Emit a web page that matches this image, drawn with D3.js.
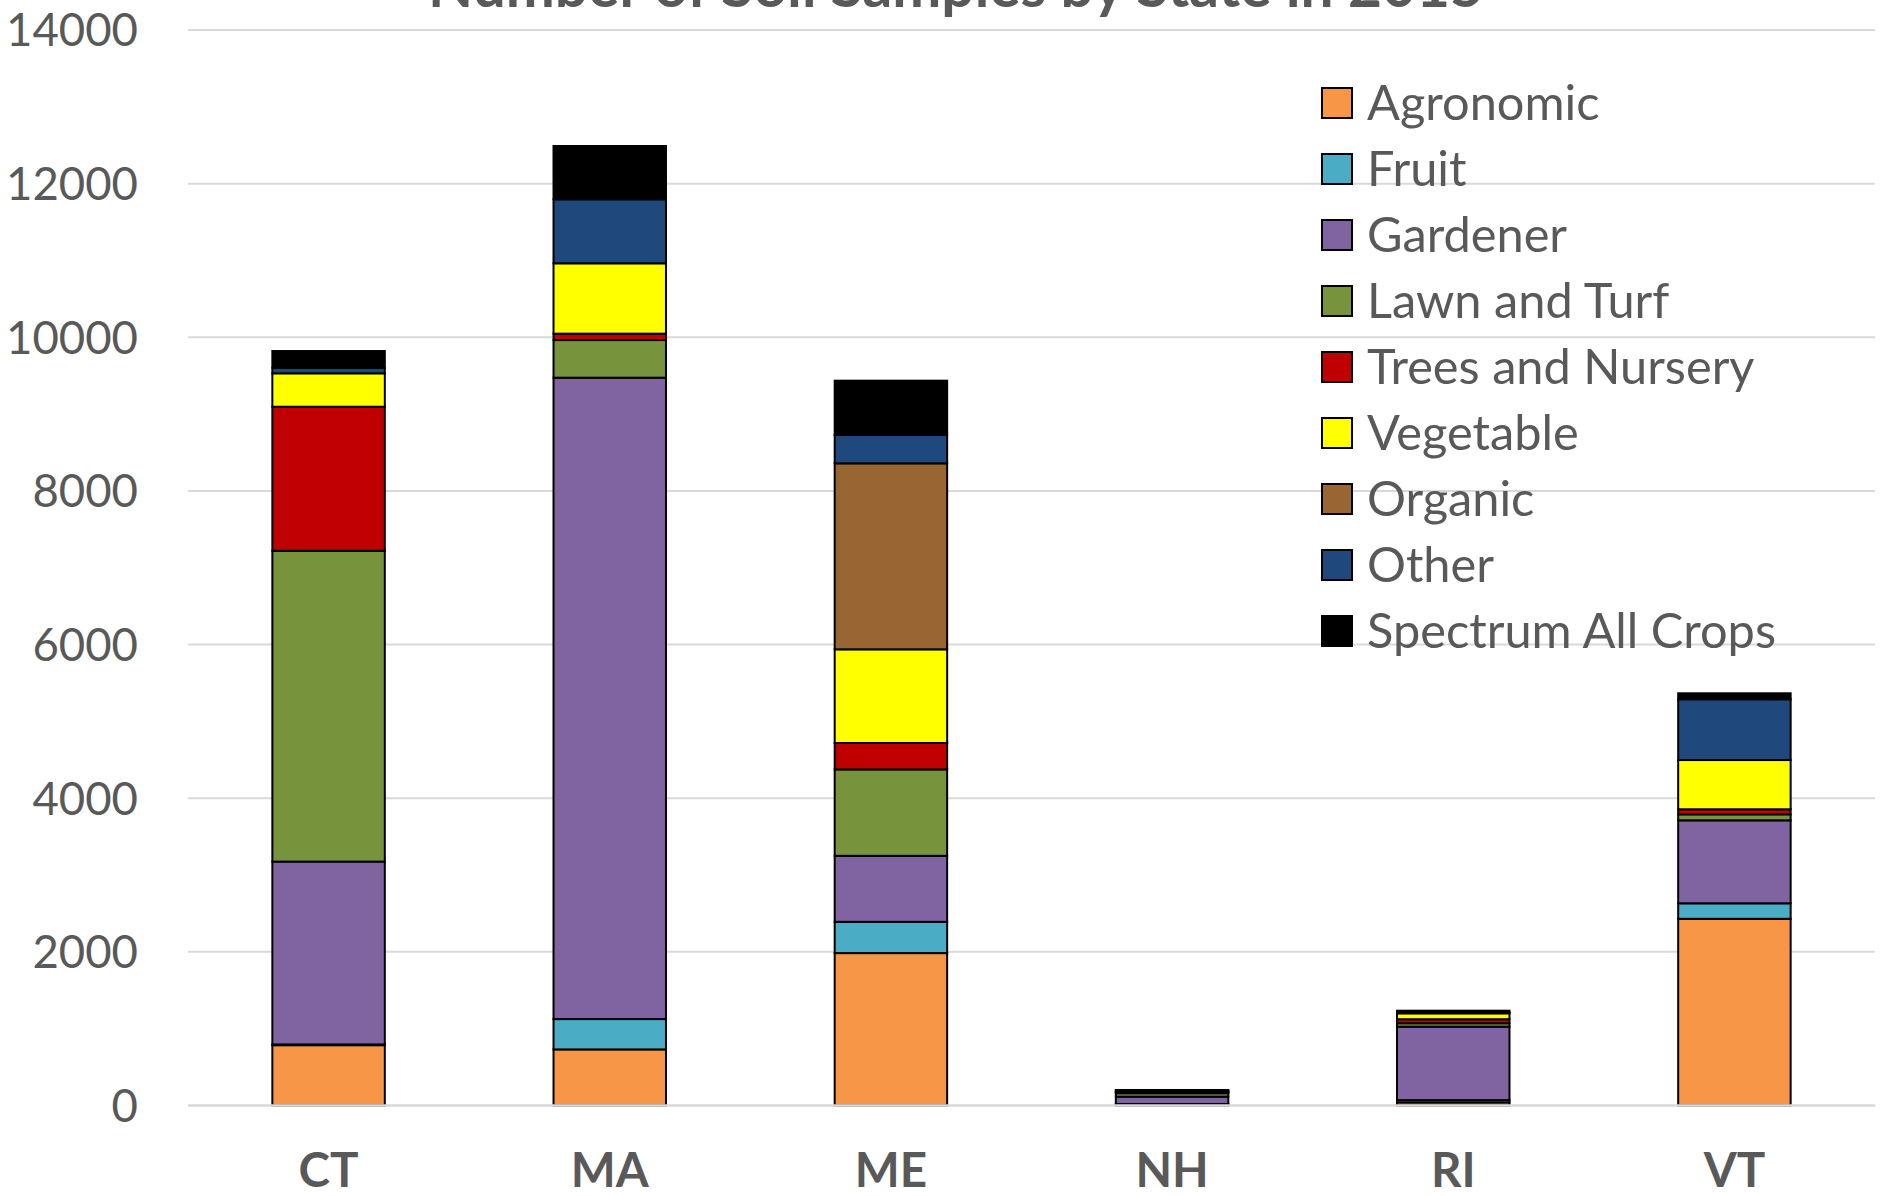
<!DOCTYPE html>
<html>
<head>
<meta charset="utf-8">
<script src="https://cdn.jsdelivr.net/npm/d3@7"></script>
<style>
  html, body { margin: 0; padding: 0; background: #ffffff; }
  svg { display: block; }
  text { font-family: Lato, "Open Sans", sans-serif; fill: #595959; }
</style>
</head>
<body>
<svg id="chart" width="1882" height="1196"></svg>
<script>
// Soil samples per state, split by sample type
const categories = ["CT", "MA", "ME", "NH", "RI", "VT"];
const seriesNames = ["Agronomic", "Fruit", "Gardener", "Lawn and Turf", "Trees and Nursery",
                     "Vegetable", "Organic", "Other", "Spectrum All Crops"];
const seriesColors = ["#F79646", "#4BACC6", "#8064A2", "#77933C", "#C00000",
                      "#FFFF00", "#996633", "#1F497D", "#000000"];

const agronomic = [785, 730, 1984, 12, 40, 2430];
const fruit     = [10, 395, 407, 8, 30, 202];
const gardener  = [2380, 8349, 859, 95, 956, 1080];
const lawnTurf  = [4046, 490, 1125, 45, 45, 78];
const trees     = [1875, 83, 344, 10, 52, 66];
const vegetable = [435, 916, 1219, 12, 77, 641];
const organic   = [0, 0, 2421, 0, 0, 0];
const other     = [73, 833, 369, 10, 15, 791];
const spectrum  = [217, 694, 707, 10, 19, 78];

const yTicks = [0, 2000, 4000, 6000, 8000, 10000, 12000, 14000];
const title = "Number of Soil Samples by State in 2015";

const seriesValues = [agronomic, fruit, gardener, lawnTurf, trees, vegetable, organic, other, spectrum];

// Row-per-state table for d3.stack
const table = categories.map((c, i) => {
  const row = { state: c };
  seriesNames.forEach((s, k) => { row[s] = seriesValues[k][i]; });
  return row;
});

const svg = d3.select("#chart");
const plot = { left: 188, right: 1875, top: 30, bottom: 1105.5 };

const x = d3.scaleBand()
  .domain(categories)
  .range([plot.left, plot.right])
  .paddingInner(0.6)
  .paddingOuter(0.3);

const y = d3.scaleLinear()
  .domain([0, 14000])
  .range([plot.bottom, plot.top]);

// Scale a text element's font size so it spans the wanted width
function fitWidth(sel, targetWidth) {
  sel.each(function () {
    const node = this;
    const fs = parseFloat(node.getAttribute("font-size"));
    const w = node.getComputedTextLength();
    node.setAttribute("font-size", (fs * targetWidth / w).toFixed(2));
  });
}

// Gridlines
svg.append("g")
  .selectAll("line")
  .data(yTicks.filter(t => t > 0))
  .join("line")
  .attr("x1", plot.left).attr("x2", plot.right)
  .attr("y1", d => y(d)).attr("y2", d => y(d))
  .attr("stroke", "#d9d9d9").attr("stroke-width", 2);

// Y tick labels
const yLabels = svg.append("g")
  .selectAll("text")
  .data(yTicks)
  .join("text")
  .attr("x", 138)
  .attr("y", d => y(d))
  .attr("dy", "0.36em")
  .attr("text-anchor", "end")
  .attr("font-size", 46)
  .text(d => d);
const probe = yLabels.filter(d => d === 14000);
const yfs = parseFloat(probe.attr("font-size")) * 132 / probe.node().getComputedTextLength();
yLabels.attr("font-size", yfs);

// Stacked bars
const stacked = d3.stack().keys(seriesNames)(table);

svg.append("g")
  .selectAll("g")
  .data(stacked)
  .join("g")
  .attr("fill", (d, i) => seriesColors[i])
  .selectAll("rect")
  .data(d => d.filter(p => p[1] - p[0] > 0))
  .join("rect")
  .attr("x", d => x(d.data.state))
  .attr("width", x.bandwidth())
  .attr("y", d => y(d[1]))
  .attr("height", d => y(d[0]) - y(d[1]))
  .attr("stroke", "#000")
  .attr("stroke-width", 2);

// Category axis line
svg.append("line")
  .attr("x1", plot.left).attr("x2", plot.right)
  .attr("y1", y(0)).attr("y2", y(0))
  .attr("stroke", "#d9d9d9").attr("stroke-width", 2.5);

// Category labels
const xLabels = svg.append("g")
  .selectAll("text")
  .data(categories)
  .join("text")
  .attr("x", d => x(d) + x.bandwidth() / 2)
  .attr("y", 1187)
  .attr("text-anchor", "middle")
  .attr("font-weight", "bold")
  .attr("font-size", 44)
  .text(d => d);
const maLabel = xLabels.filter(d => d === "MA");
const xfs = parseFloat(maLabel.attr("font-size")) * 78 / maLabel.node().getComputedTextLength();
xLabels.attr("font-size", xfs);

// Title
svg.append("text")
  .attr("x", 956)
  .attr("y", 7)
  .attr("text-anchor", "middle")
  .attr("font-weight", "bold")
  .attr("font-size", 50)
  .text(title)
  .call(fitWidth, 1056);

// Legend
const legend = svg.append("g");
const rowStep = 66;
const items = legend.selectAll("g")
  .data(seriesNames)
  .join("g")
  .attr("transform", (d, i) => `translate(1322, ${88 + i * rowStep})`);
items.append("rect")
  .attr("width", 30).attr("height", 30)
  .attr("fill", (d, i) => seriesColors[i])
  .attr("stroke", "#000").attr("stroke-width", 2);
const legendText = items.append("text")
  .attr("x", 45)
  .attr("y", 32)
  .attr("font-size", 42)
  .text(d => d);
const widest = legendText.filter(d => d === "Spectrum All Crops");
const lfs = parseFloat(widest.attr("font-size")) * 409 / widest.node().getComputedTextLength();
legendText.attr("font-size", lfs);
</script>
</body>
</html>
